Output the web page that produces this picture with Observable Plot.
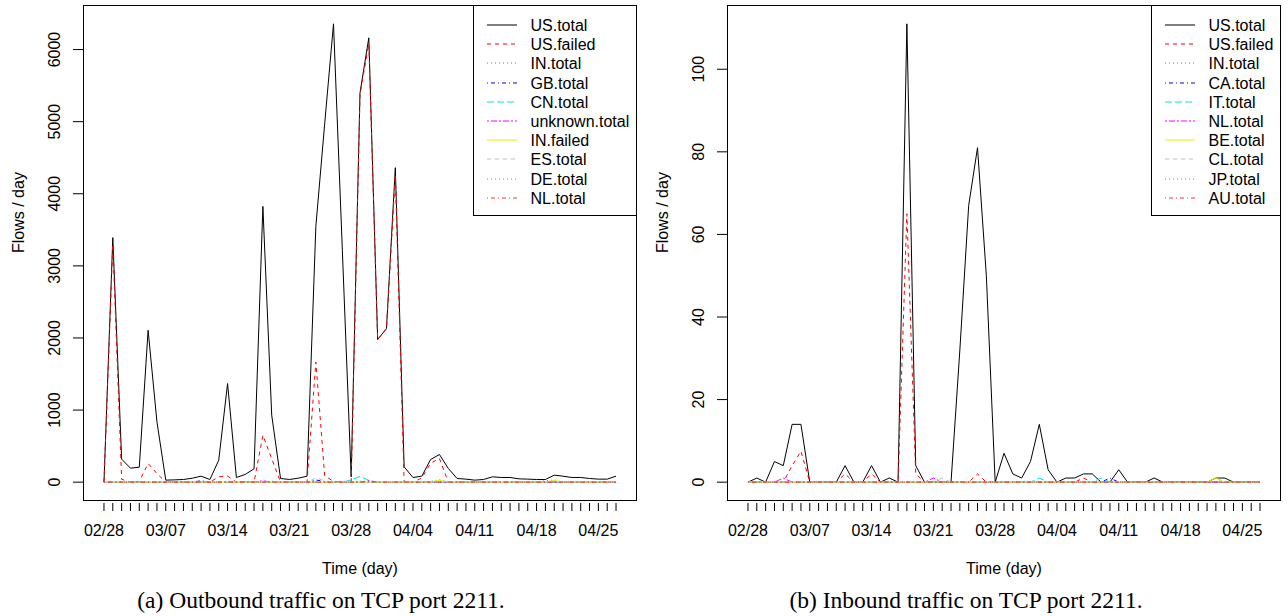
<!DOCTYPE html>
<html>
<head>
<meta charset="utf-8">
<script src="https://cdn.jsdelivr.net/npm/d3@7"></script>
<script src="https://cdn.jsdelivr.net/npm/@observablehq/plot@0.6"></script>
<style>
  html, body { margin: 0; padding: 0; background: #fff; }
  #wrap { position: relative; width: 1288px; height: 616px; overflow: hidden; background: #fff; }
  .panel { position: absolute; top: 0; }
  .legend { position: absolute; }
  .caption { position: absolute; top: 587px; font-family: "Liberation Serif", "Times New Roman", serif; font-size: 23.5px; line-height: 26px; white-space: nowrap; transform: translateX(-50%); color: #000; }
</style>
</head>
<body>
<div id="wrap"></div>
<script>
// ---------- data ----------
const startDay = "2010/02/28";
const endDay = "2010/04/28"; // exclusive
const tickLabels = ["02/28","03/07","03/14","03/21","03/28","04/04","04/11","04/18","04/25"];

const namesA = ["US.total","US.failed","IN.total","GB.total","CN.total","unknown.total","IN.failed","ES.total","DE.total","NL.total"];
const namesB = ["US.total","US.failed","IN.total","CA.total","IT.total","NL.total","BE.total","CL.total","JP.total","AU.total"];

// (a) Outbound
const aUSTotal = [0,3392,319,194,208,2107,836,28,32,37,
  55,83,37,305,1368,65,107,185,3825,929,
  51,37,55,83,3548,4971,6357,3215,74,5400,
  6163,1978,2130,4362,212,65,83,314,384,190,
  51,42,28,37,74,65,65,46,42,37,
  37,97,83,65,65,51,42,42,83];
const aUSFailed = [0,3300,40,0,10,259,120,0,0,0,
  0,0,0,74,84,0,0,0,651,325,
  0,0,0,0,1667,90,10,5,0,5380,
  6080,1978,2130,4260,0,0,60,263,328,0,
  0,0,0,0,0,0,0,0,0,0,
  0,0,0,0,0,0,0,0,0];
const aINTotal = [0,0,0,0,0,0,0,0,0,0,
  0,0,0,0,0,0,0,0,0,15,
  0,0,0,0,0,0,0,0,0,15,
  0,0,0,0,0,0,0,10,35,0,
  0,0,0,0,0,0,0,0,0,0,
  20,30,0,0,0,0,0,0,0];
const aGBTotal = [0,0,0,0,0,0,0,0,0,0,
  0,20,0,0,0,0,0,0,0,0,
  0,0,0,0,30,10,0,0,0,0,
  0,0,0,0,0,0,0,0,0,0,
  0,0,0,0,0,0,0,0,0,0,
  0,0,0,0,0,0,0,0,0];
const aCNTotal = [0,0,0,0,0,0,0,0,0,0,
  0,0,0,0,0,0,0,0,0,0,
  0,0,0,0,0,0,0,0,30,80,
  25,0,0,0,0,0,0,0,0,0,
  0,0,0,0,0,0,0,0,0,0,
  0,0,0,0,0,0,0,0,0];
const aUnknownTotal = [0,0,0,0,0,0,0,0,0,0,
  0,0,0,0,0,0,0,0,20,0,
  0,0,0,0,0,0,0,0,0,0,
  20,0,0,0,0,0,0,10,0,0,
  0,0,0,0,0,0,0,0,0,0,
  0,0,0,0,0,0,0,0,0];
const aINFailed = [0,0,0,0,0,0,0,0,0,0,
  0,0,0,0,0,0,0,0,0,0,
  0,0,0,0,0,0,0,0,0,0,
  0,0,0,0,0,0,0,0,28,0,
  0,0,0,0,0,0,0,0,0,0,
  0,25,0,0,0,0,0,0,0];
const aESTotal = [0,0,0,0,0,0,0,0,0,0,
  0,0,0,0,0,0,0,0,0,0,
  0,0,0,0,60,20,0,0,0,0,
  0,0,0,0,0,0,0,0,0,0,
  0,0,0,0,0,0,0,0,0,0,
  0,0,0,0,0,0,0,0,0];
const aDETotal = [0,0,0,0,0,0,0,0,0,0,
  0,0,0,0,0,0,10,0,0,0,
  0,0,0,0,0,0,0,0,0,0,
  0,0,0,0,0,0,0,0,0,0,
  0,0,0,0,0,0,0,0,0,0,
  0,0,0,0,0,0,0,0,0];
const aNLTotal = [0,0,0,0,0,0,0,0,0,0,
  0,0,0,0,0,0,0,0,0,0,
  0,0,0,0,0,0,0,0,0,0,
  10,0,0,0,0,0,0,0,0,0,
  0,0,0,0,0,0,0,0,0,0,
  0,0,0,0,0,0,0,0,0];

// (b) Inbound
const bUSTotal = [0,1,0,5,4,14,14,0,0,0,
  0,4,0,0,4,0,1,0,111,4,
  0,0,0,0,32,67,81,50,0,7,
  2,1,5,14,3,0,1,1,2,2,
  0,0,3,0,0,0,1,0,0,0,
  0,0,0,1,1,0,0,0,0];
const bUSFailed = [0,0,0,0,0,4,7.5,0,0,0,
  0,2,0,0,2,0,0,0,65,2,
  0,0,0,0,0,0,2,0,0,0,
  0,0,0,0,0,0,0,0,1,0,
  0,0,0,0,0,0,0,0,0,0,
  0,0,0,0,0,0,0,0,0];
const bINTotal = [0,0,0,0,0,0,0,0,0,0,
  0,0,0,0,0,0,0,0,0,0,
  0,0,0,0,0,0,0,0,0,0,
  0,0,0,0,0,0,0,0,0,0,
  0,0,0,0,0,0,0,0,0,0,
  0,0,0,0,1,0,0,0,0];
const bCATotal = [0,0,0,0,0,0,0,0,0,0,
  0,0,0,0,0,0,0,0,0,0,
  0,0,0,0,0,0,0,0,0,0,
  0,0,0,0,0,0,0,0,0,0,
  0,1,0,0,0,0,0,0,0,0,
  0,0,0,0,0,0,0,0,0];
const bITTotal = [0,0,0,0,0,0,0,0,0,0,
  0,0,0,0,0,0,0,0,0,0,
  0,0,0,0,0,0,0,0,0,0,
  0,0,0,1,0,0,0,0,0,0,
  1,0,0,0,0,0,0,0,0,0,
  0,0,0,0,0,0,0,0,0];
const bNLTotal = [0,0,0,0,1,0,0,0,0,0,
  0,0,0,0,0,0,0,0,0,0,
  0,1,0,0,0,0,0,0,0,0,
  0,0,0,0,0,0,0,0,0,0,
  0,0,0,0,0,0,0,0,0,0,
  0,0,0,0,0,0,0,0,0];
const bBETotal = [0,0,0,0,0,0,0,0,0,0,
  0,0,0,0,0,0,0,0,0,0,
  0,0,0,0,0,0,0,0,0,0,
  0,0,0,0,0,0,0,0,0,0,
  0,0,0,0,0,0,0,0,0,0,
  0,0,0,1,0,0,0,0,0];
const bCLTotal = [0,0,0,0,0,0,0,0,0,0,
  0,0,0,0,0,0,0,0,0,0,
  0,0,1,0,0,0,0,0,0,0,
  0,0,0,0,0,0,0,0,0,0,
  0,0,0,0,0,0,0,0,0,0,
  0,0,0,0,0,0,0,0,0];
const bJPTotal = [0,0,0,0,0,0,0,0,0,0,
  0,0,0,0,0,0,0,0,0,0,
  0,0,0,0,0,0,0,0,0,0,
  0,0,0,0,0,0,0,0,0,0,
  0,0,0,0,0,0,0,0,0,0,
  0,0,0,0,0,0,0,0,0];
const bAUTotal = [0,0,0,0,0,0,0,0,0,0,
  0,0,0,0,0,0,0,0,0,0,
  0,0,0,0,0,0,0,0,0,0,
  0,0,0,0,0,0,0,0,0,0,
  0,0,0,0,0,0,0,0,0,0,
  0,0,0,0,0,0,0,0,0];

const seriesA = [aUSTotal,aUSFailed,aINTotal,aGBTotal,aCNTotal,aUnknownTotal,aINFailed,aESTotal,aDETotal,aNLTotal];
const seriesB = [bUSTotal,bUSFailed,bINTotal,bCATotal,bITTotal,bNLTotal,bBETotal,bCLTotal,bJPTotal,bAUTotal];

const yTicksA = [0,1000,2000,3000,4000,5000,6000];
const yTicksB = [0,20,40,60,80,100];

// ---------- styles (R palette + lty) ----------
const colors = ["#000000","#ff0000","#00cd00","#0000ff","#00e5ee","#ff00ff","#eeee00","#bebebe","#888888","#ff3030"];
const dashes = [null,"4,4","1,3","1,3,4,3","7,3","2,2,6,2",null,"4,4","1,3","1,3,4,3"];

// ---------- build ----------
const parse = d3.utcParse("%Y/%m/%d");
const days = d3.utcDay.range(parse(startDay), parse(endDay));
const labelDates = tickLabels.map(t => parse("2010/" + t));
const fmt = d3.utcFormat("%m/%d");
const DAY = 864e5;

function panel(series, yTicks) {
  const n = days.length;
  const span = (n - 1) * 0.04;
  const xDomain = [new Date(+days[0] - span * DAY), new Date(+days[n - 1] + span * DAY)];
  const yMax = d3.max(series, s => d3.max(s));
  const yDomain = [-0.04 * yMax, 1.04 * yMax];
  const lines = series.map((vals, k) =>
    Plot.line(vals.map((v, i) => ({date: days[i], value: v})), {
      x: "date", y: "value",
      stroke: colors[k], strokeWidth: 1, strokeDasharray: dashes[k] || undefined,
      strokeLinejoin: "miter", strokeLinecap: "butt"
    })
  );
  return Plot.plot({
    width: 644, height: 580,
    marginLeft: 83, marginRight: 8, marginTop: 5, marginBottom: 80,
    style: {fontFamily: "'Liberation Sans', Arial, Helvetica, sans-serif", fontSize: "16px", background: "#fff", color: "#000", overflow: "visible"},
    x: {type: "utc", domain: xDomain},
    y: {domain: yDomain},
    marks: [
      ...lines,
      Plot.frame({stroke: "#000", strokeWidth: 1}),
      Plot.axisY({ticks: yTicks, tickSize: 10, tickPadding: 14, tickRotate: -90, tickFormat: d => String(d), label: null, stroke: "#000"}),
      Plot.axisX({ticks: days, tickSize: 8, tickFormat: () => "", dy: 3, label: null, stroke: "#000"}),
      Plot.axisX({ticks: labelDates, tickSize: 0, tickPadding: 24, tickFormat: fmt, label: null}),
      Plot.text(["Flows / day"], {frameAnchor: "left", dx: -65, rotate: -90, text: d => d, fontSize: 16}),
      Plot.text(["Time (day)"], {frameAnchor: "bottom", dy: 73, text: d => d, fontSize: 16})
    ]
  });
}

function legend(names, left, width) {
  const h = 211;
  const svg = d3.create("svg").attr("width", width).attr("height", h)
    .attr("class", "legend").style("left", left + "px").style("top", "5px")
    .style("font-family", "'Liberation Sans', Arial, Helvetica, sans-serif").style("font-size", "16px");
  svg.append("rect").attr("x", 0.5).attr("y", 0.5).attr("width", width - 1).attr("height", h - 1)
    .attr("fill", "#fff").attr("stroke", "#000");
  names.forEach((nm, i) => {
    const y = Math.round(20 + 19.2 * i);
    const ln = svg.append("line").attr("x1", 14).attr("x2", 44).attr("y1", y).attr("y2", y)
      .attr("stroke", colors[i]).attr("stroke-width", 1);
    if (dashes[i]) ln.attr("stroke-dasharray", dashes[i]);
    svg.append("text").attr("x", 57.5).attr("y", y).attr("dy", "0.35em").attr("fill", "#000").text(nm);
  });
  return svg.node();
}

const wrap = document.getElementById("wrap");
const pa = panel(seriesA, yTicksA);
pa.classList.add("panel"); pa.style.left = "0px";
const pb = panel(seriesB, yTicksB);
pb.classList.add("panel"); pb.style.left = "644px";
wrap.appendChild(pa);
wrap.appendChild(pb);
wrap.appendChild(legend(namesA, 472.5, 164));
wrap.appendChild(legend(namesB, 1150.5, 130));

const capA = document.createElement("div");
capA.className = "caption"; capA.style.left = "321px";
capA.textContent = "(a) Outbound traffic on TCP port 2211.";
const capB = document.createElement("div");
capB.className = "caption"; capB.style.left = "966px";
capB.textContent = "(b) Inbound traffic on TCP port 2211.";
wrap.appendChild(capA);
wrap.appendChild(capB);
</script>
</body>
</html>
